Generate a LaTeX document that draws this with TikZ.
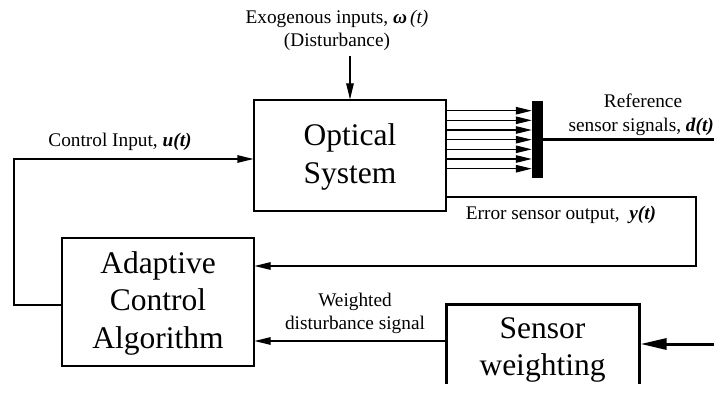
\documentclass[tikz,border=0pt]{standalone}
\usepackage{fontspec}
\setmainfont{Liberation Serif}
\usetikzlibrary{arrows.meta,calc}
\begin{document}
\begin{tikzpicture}[x=1pt,y=-1pt,
  small/.style={font=\fontsize{19.3}{23}\selectfont, inner sep=0pt, align=center},
  big/.style={font=\fontsize{31.5}{37.5}\selectfont, inner sep=0pt, align=center},
  blk/.style={draw, line width=1.1pt, inner sep=0pt},
  thin/.style={line width=1.1pt},
  arr/.style={thin, -{Triangle[length=16pt,width=7.5pt]}},
  fatarr/.style={line width=3pt, -{Triangle[length=26pt,width=11pt]}}]
\useasboundingbox (0,0) rectangle (714,393);
\clip (0,0) rectangle (714,383);
% blocks
\node[blk, minimum width=192pt, minimum height=111pt] (os) at (350,155.5) {};
\node[big] (ostxt) at (350,157) {Optical\\System};
\node[blk, minimum width=192pt, minimum height=128pt] (aca) at (158,302) {};
\node[big] (acatxt) at (158,303) {Adaptive\\Control\\Algorithm};
\node[draw, line width=3pt, minimum width=193pt, minimum height=170pt, anchor=north, inner sep=0pt] (sw) at (542.5,303) {};
\node[big] (swtxt) at (542.5,350) {Sensor\\weighting};
\node[fill=black, minimum width=11pt, minimum height=77pt, inner sep=0pt] (bar) at (537.5,139.5) {};
% labels
\node[small] (exo) at (337,19) {Exogenous inputs, \textbf{\textit{ω}}\,\textit{(t)}};
\node[small] (dist) at (337,42) {(Disturbance)};
\coordinate (exoend) at (350,56);
\node[small] (ctl) at (120,142) {Control Input, \textbf{\textit{u(t)}}};
\node[small] (ref1) at (643,101) {Reference};
\node[small, anchor=east] (ref2) at (714,127) {sensor signals, \textbf{\textit{d(t)}}};
\node[small] (err) at (561,215) {Error sensor output, \ \textbf{\textit{y(t)}}};
\node[small] (wd) at (355,313.5) {Weighted\\disturbance signal};
% coordinates
\coordinate (errR) at (696,197);
\coordinate (errB) at (696,266);
\coordinate (ctlL) at (14,305);
\coordinate (ctlT) at (14,159);
\coordinate (refR) at (714,139);
\coordinate (swin) at (714,344);
% connectors
\draw[arr] (exoend) -- (exoend |- os.north);
\foreach \yy in {110.7,120.3,130,139.7,149.3,159,168.7}
  \draw[arr] (os.east |- 0,\yy) -- (bar.west |- 0,\yy);
\draw[line width=3pt] (bar.east |- refR) -- (refR);
\draw[arr] (os.east |- errR) -- (errR) -- (errB) -- (aca.east |- errB);
\draw[arr] (aca.west |- ctlL) -- (ctlL) -- (ctlT) -- (os.west |- ctlT);
\draw[arr] (sw.west |- 0,341) -- (aca.east |- 0,341);
\draw[fatarr] (swin) -- (sw.east |- swin);
\end{tikzpicture}
\end{document}
